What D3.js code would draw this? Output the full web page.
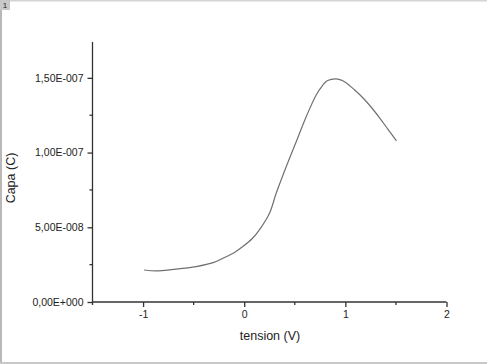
<!DOCTYPE html>
<html><head><meta charset="utf-8">
<script src="https://cdn.jsdelivr.net/npm/d3@7"></script>
<style>html,body{margin:0;padding:0;background:#fff;}svg{display:block;}</style>
</head><body>
<script>
const tension = [-0.99,-0.87,-0.7,-0.475,-0.3,-0.21,-0.1,-0.014,0.08,0.15,0.25,0.317,0.416,0.515,0.614,0.713,0.77,0.812,0.86,0.911,0.96,1.01,1.09,1.175,1.26,1.34,1.42,1.505];
const capa = [2.14e-8,2.08e-8,2.18e-8,2.37e-8,2.65e-8,2.93e-8,3.3e-8,3.71e-8,4.25e-8,4.83e-8,5.94e-8,7.29e-8,9.07e-8,1.074e-7,1.242e-7,1.387e-7,1.445e-7,1.477e-7,1.49e-7,1.493e-7,1.485e-7,1.466e-7,1.42e-7,1.365e-7,1.3e-7,1.231e-7,1.157e-7,1.079e-7];
const xTicks = [-1,0,1,2];
const xMinor = [-1.5,-0.5,0.5,1.5];
const yTicks = [0,5e-8,1e-7,1.5e-7];
const yTickLabels = ["0,00E+000","5,00E-008","1,00E-007","1,50E-007"];
const yMinor = [2.5e-8,7.5e-8,1.25e-7];

const W=487,H=364;
const svg=d3.select("body").append("svg").attr("width",W).attr("height",H);
svg.append("rect").attr("width",W).attr("height",H).attr("fill","#fff");
// window frame
svg.append("rect").attr("x",0).attr("y",0).attr("width",W).attr("height",1.5).attr("fill","#d4d4d4");
svg.append("rect").attr("x",0).attr("y",0).attr("width",2).attr("height",H).attr("fill","#b8b8b8");
svg.append("rect").attr("x",0).attr("y",362).attr("width",W).attr("height",2).attr("fill","#c8c8c8");
svg.append("rect").attr("x",0).attr("y",0).attr("width",10).attr("height",10).attr("fill","#c8c8c8");
svg.append("text").attr("x",5).attr("y",8).attr("text-anchor","middle").attr("font-family","Liberation Sans, Arial, sans-serif").attr("font-size",8).attr("fill","#222").text("1");

const x=d3.scaleLinear().domain([-1.5,2]).range([92.5,446.5]);
const y=d3.scaleLinear().domain([0,1.74e-7]).range([302,42]);
const axisCol="#333";
const font="Liberation Sans, Arial, sans-serif";

const gx=svg.append("g").attr("transform","translate(0,302)");
gx.call(d3.axisBottom(x).tickValues(xTicks).tickSize(5).tickPadding(4).tickFormat(d=>d3.format("d")(d).replace("−","-")));
gx.append("g").selectAll("line").data(xMinor).join("line").attr("x1",d=>x(d)).attr("x2",d=>x(d)).attr("y1",0).attr("y2",3).attr("stroke",axisCol);
gx.select(".domain").attr("d",`M${x(-1.5)},0H${x(2)}`);

const gy=svg.append("g").attr("transform","translate(92.5,0)");
gy.call(d3.axisLeft(y).tickValues(yTicks).tickSize(5).tickPadding(4).tickFormat((d,i)=>yTickLabels[i]));
gy.append("g").selectAll("line").data(yMinor).join("line").attr("y1",d=>y(d)).attr("y2",d=>y(d)).attr("x1",0).attr("x2",-3).attr("stroke",axisCol);
gy.select(".domain").attr("d",`M0,${y(1.74e-7)}V${y(0)}`);

svg.selectAll(".domain, .tick line").attr("stroke",axisCol).attr("stroke-width",1.3);
svg.selectAll("g line").attr("stroke-width",1.3);
svg.selectAll(".tick text").attr("font-family",font).attr("font-size",10.5).attr("fill","#222");

svg.append("path").datum(tension.map((t,i)=>[t,capa[i]]))
 .attr("d",d3.line().x(d=>x(d[0])).y(d=>y(d[1])).curve(d3.curveCatmullRom.alpha(0.5)))
 .attr("fill","none").attr("stroke","#707070").attr("stroke-width",1.2);

svg.append("text").attr("x",270).attr("y",340).attr("text-anchor","middle").attr("font-family",font).attr("font-size",12.5).attr("fill","#222").text("tension (V)");
svg.append("text").attr("transform","translate(15,178) rotate(-90)").attr("text-anchor","middle").attr("font-family",font).attr("font-size",12.5).attr("fill","#222").text("Capa (C)");
</script>
</body></html>
